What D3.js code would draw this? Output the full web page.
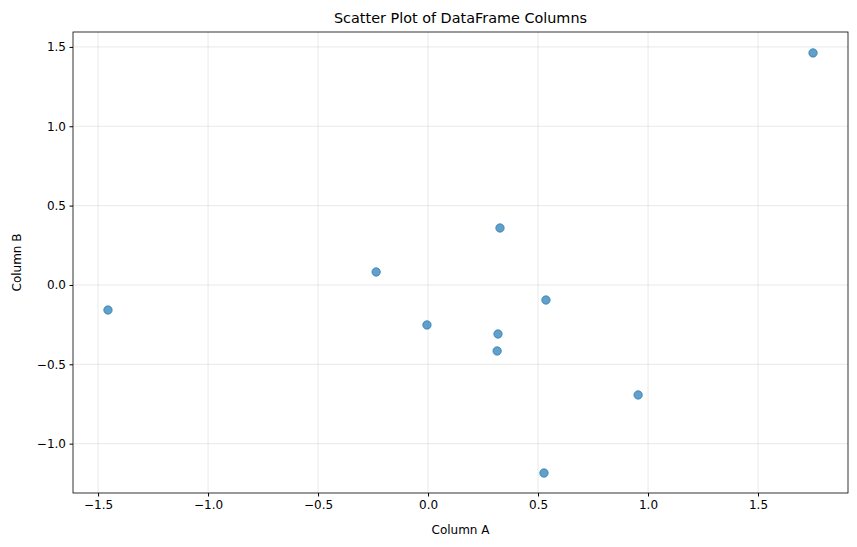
<!DOCTYPE html>
<html><head><meta charset="utf-8">
<script src="https://cdn.jsdelivr.net/npm/d3@7"></script>
<style>body{margin:0;background:#fff}text{font-family:"DejaVu Sans",sans-serif}</style>
</head><body>
<script>
const colA = [1.750, 0.327, -0.236, -1.455, 0.536, -0.005, 0.318, 0.314, 0.955, 0.527];
const colB = [1.462, 0.359, 0.082, -0.158, -0.095, -0.252, -0.309, -0.416, -0.693, -1.185];
const xTicks = [-1.5, -1.0, -0.5, 0.0, 0.5, 1.0, 1.5];
const yTicks = [-1.0, -0.5, 0.0, 0.5, 1.0, 1.5];

const W = 857, H = 547, m = {l:73, r:9, t:32, b:54};
const svg = d3.select("body").append("svg").attr("width", W).attr("height", H);
const x = d3.scaleLinear().domain([-1.614, 1.909]).range([m.l, W - m.r]);
const y = d3.scaleLinear().domain([-1.311, 1.594]).range([H - m.b, m.t]);

const g = svg.append("g");
g.selectAll(".gx").data(xTicks).enter().append("line")
  .attr("x1", d => x(d)).attr("x2", d => x(d)).attr("y1", m.t).attr("y2", H - m.b)
  .attr("stroke", "#b0b0b0").attr("stroke-opacity", 0.35).attr("stroke-width", 0.8);
g.selectAll(".gy").data(yTicks).enter().append("line")
  .attr("y1", d => y(d)).attr("y2", d => y(d)).attr("x1", m.l).attr("x2", W - m.r)
  .attr("stroke", "#b0b0b0").attr("stroke-opacity", 0.35).attr("stroke-width", 0.8);

const fmt = d => d.toFixed(1).replace("-", "\u2212");
const xa = svg.append("g").attr("transform", `translate(0,${H - m.b})`)
  .call(d3.axisBottom(x).tickValues(xTicks).tickFormat(fmt).tickSize(3.5).tickPadding(3.5));
const ya = svg.append("g").attr("transform", `translate(${m.l},0)`)
  .call(d3.axisLeft(y).tickValues(yTicks).tickFormat(fmt).tickSize(3.5).tickPadding(3.5));
[xa, ya].forEach(a => { a.select(".domain").remove(); a.selectAll("text").attr("font-size", 12).attr("fill", "#000"); });

svg.append("rect").attr("x", m.l).attr("y", m.t).attr("width", W - m.l - m.r).attr("height", H - m.t - m.b)
  .attr("fill", "none").attr("stroke", "#000").attr("stroke-width", 0.8);

svg.selectAll("circle.p").data(colA.map((a, i) => [a, colB[i]])).enter().append("circle")
  .attr("cx", d => x(d[0])).attr("cy", d => y(d[1])).attr("r", 4.2)
  .attr("fill", "#1f77b4").attr("fill-opacity", 0.7)
  .attr("stroke", "#1f77b4").attr("stroke-opacity", 0.7).attr("stroke-width", 1);

svg.append("text").attr("x", (m.l + W - m.r) / 2).attr("y", 23).attr("text-anchor", "middle")
  .attr("font-size", 14.4).text("Scatter Plot of DataFrame Columns");
svg.append("text").attr("x", (m.l + W - m.r) / 2).attr("y", 534).attr("text-anchor", "middle")
  .attr("font-size", 12).text("Column A");
svg.append("text").attr("transform", `translate(21,${(m.t + H - m.b) / 2}) rotate(-90)`).attr("text-anchor", "middle")
  .attr("font-size", 12).text("Column B");
</script>
</body></html>
